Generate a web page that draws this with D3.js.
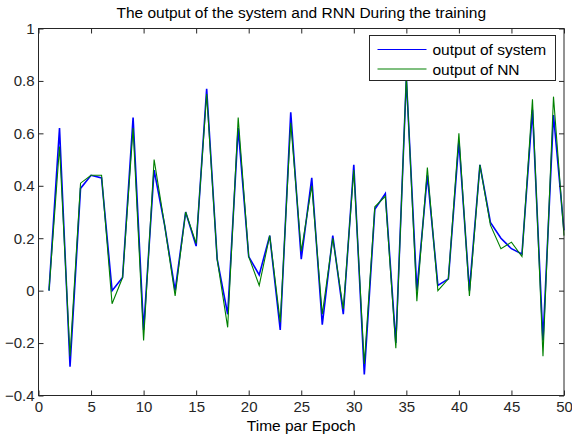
<!DOCTYPE html>
<html>
    <head>
        <meta charset="utf-8">
        <title>RNN training output</title>
        <style>
            html, body {
                margin: 0px;
                padding: 0px;
                background-color: #ffffff;
                font-family: "Liberation Sans", Arial, sans-serif;
            }

            #main svg {
                display: block;
            }

            .axis text {
                fill: #262626;
                font-size: 15px;
                font-family: "Liberation Sans", Arial, sans-serif;
            }

            .axis line {
                stroke: #262626;
            }

            .axis .domain {
                stroke: none;
            }
        </style>
        <script src="https://cdn.jsdelivr.net/npm/d3@7"></script>
    </head>
    <body>
        <div id="main"></div>

        <script>
            var epochs = [1, 2, 3, 4, 5, 6, 7, 8, 9, 10,
                          11, 12, 13, 14, 15, 16, 17, 18, 19, 20,
                          21, 22, 23, 24, 25, 26, 27, 28, 29, 30,
                          31, 32, 33, 34, 35, 36, 37, 38, 39, 40,
                          41, 42, 43, 44, 45, 46, 47, 48, 49, 50];

            var systemOut = [0, 0.62, -0.29, 0.39, 0.44, 0.43, 0.0, 0.05, 0.66, -0.15,
                             0.46, 0.25, 0.0, 0.30, 0.17, 0.77, 0.12, -0.09, 0.62, 0.13,
                             0.06, 0.21, -0.15, 0.68, 0.12, 0.43, -0.13, 0.21, -0.09, 0.48,
                             -0.32, 0.31, 0.37, -0.20, 0.81, 0.0, 0.44, 0.02, 0.045, 0.57,
                             0.0, 0.48, 0.26, 0.20, 0.16, 0.14, 0.69, -0.19, 0.67, 0.23];

            var nnOut = [0, 0.55, -0.25, 0.41, 0.44, 0.44, -0.05, 0.05, 0.62, -0.19,
                         0.50, 0.25, -0.02, 0.30, 0.18, 0.75, 0.12, -0.14, 0.66, 0.13,
                         0.02, 0.21, -0.12, 0.64, 0.15, 0.40, -0.09, 0.20, -0.07, 0.46,
                         -0.28, 0.32, 0.36, -0.22, 0.82, -0.04, 0.47, 0.0, 0.045, 0.60,
                         -0.02, 0.48, 0.25, 0.16, 0.185, 0.13, 0.73, -0.25, 0.74, 0.21];

            var xTicks = [0, 5, 10, 15, 20, 25, 30, 35, 40, 45, 50];
            var yTicks = [-0.4, -0.2, 0, 0.2, 0.4, 0.6, 0.8, 1];

            var seriesNames = ["output of system", "output of NN"];
            var seriesColors = ["#0000ff", "#008000"];

            var title = "The output of the system and RNN During the training";
            var xLabel = "Time par Epoch";

            var width = 572;
            var height = 436;
            var plotLeft = 38.5, plotRight = 564, plotTop = 28.5, plotBottom = 395.5;
            var fontSize = "15.5px";

            function main() {
                var svg = d3.select("#main")
                            .append("svg")
                            .attr("width", width)
                            .attr("height", height);

                var x = d3.scaleLinear().domain([0, 50]).range([plotLeft, plotRight]);
                var y = d3.scaleLinear().domain([-0.4, 1]).range([plotBottom, plotTop]);

                var line = d3.line()
                    .x(function(d) { return x(d.t); })
                    .y(function(d) { return y(d.v); });

                var series = [systemOut, nnOut].map(function(vals) {
                    return vals.map(function(v, i) { return {t: epochs[i], v: v}; });
                });

                // blue a bit wider so it peeks out from under the green one
                var widths = [1.6, 1.1];
                series.forEach(function(s, i) {
                    svg.append("path")
                        .datum(s)
                        .attr("fill", "none")
                        .attr("stroke", seriesColors[i])
                        .attr("stroke-width", widths[i])
                        .attr("d", line);
                });

                // axes, matlab style: ticks inward on all four sides
                svg.append("g")
                    .attr("class", "axis")
                    .attr("transform", "translate(0," + plotBottom + ")")
                    .call(d3.axisBottom(x).tickValues(xTicks).tickSizeInner(-5).tickSizeOuter(0).tickPadding(6));

                svg.append("g")
                    .attr("class", "axis")
                    .attr("transform", "translate(" + plotLeft + ",0)")
                    .call(d3.axisLeft(y).tickValues(yTicks).tickSizeInner(-5).tickSizeOuter(0).tickPadding(4)
                        .tickFormat(function(d) { return d3.format("")(+d.toFixed(1)); }));

                svg.append("g")
                    .attr("class", "axis")
                    .attr("transform", "translate(0," + plotTop + ")")
                    .call(d3.axisTop(x).tickValues(xTicks).tickSizeInner(-5).tickSizeOuter(0).tickFormat(""));

                svg.append("g")
                    .attr("class", "axis")
                    .attr("transform", "translate(" + plotRight + ",0)")
                    .call(d3.axisRight(y).tickValues(yTicks).tickSizeInner(-5).tickSizeOuter(0).tickFormat(""));

                svg.append("rect")
                    .attr("x", plotLeft)
                    .attr("y", plotTop)
                    .attr("width", plotRight - plotLeft)
                    .attr("height", plotBottom - plotTop)
                    .attr("fill", "none")
                    .attr("stroke", "#262626")
                    .attr("stroke-width", 1);

                // legend
                var lg = svg.append("g").attr("transform", "translate(369.5,35.5)");
                lg.append("rect")
                    .attr("width", 186)
                    .attr("height", 45)
                    .attr("fill", "#ffffff")
                    .attr("stroke", "#262626");

                seriesNames.forEach(function(name, i) {
                    var yy = 14 + i * 19.5;
                    lg.append("line")
                        .attr("x1", 8).attr("x2", 57)
                        .attr("y1", yy).attr("y2", yy)
                        .attr("stroke", seriesColors[i])
                        .attr("stroke-width", 1.1);
                    lg.append("text")
                        .attr("x", 63)
                        .attr("y", yy + 5.5)
                        .attr("font-size", fontSize)
                        .attr("fill", "#000000")
                        .text(name);
                });

                svg.append("text")
                    .attr("x", (plotLeft + plotRight) / 2)
                    .attr("y", 18)
                    .attr("text-anchor", "middle")
                    .attr("font-size", fontSize)
                    .attr("fill", "#000000")
                    .text(title);

                svg.append("text")
                    .attr("x", (plotLeft + plotRight) / 2)
                    .attr("y", 430.5)
                    .attr("text-anchor", "middle")
                    .attr("font-size", fontSize)
                    .attr("fill", "#000000")
                    .text(xLabel);
            }

            main();
        </script>
    </body>
</html>
